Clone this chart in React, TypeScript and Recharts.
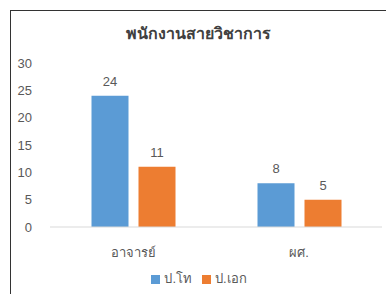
import { BarChart, Bar, XAxis, YAxis, Legend, LabelList } from 'recharts';

const categories = ['อาจารย์', 'ผศ.'];
const masters = [24, 8];
const doctorate = [11, 5];
const yTicks = [0, 5, 10, 15, 20, 25, 30];

const data = categories.map((name, i) => ({ name, s1: masters[i], s2: doctorate[i] }));

const textColor = '#595959';
const font = '"Liberation Sans", Arial, sans-serif';

export default function App() {
  return (
    <div style={{ position: 'absolute', left: 0, top: 0, width: 386, height: 294, background: '#fff', fontFamily: font }}>
      {/* frame of the screenshot */}
      <div style={{ position: 'absolute', left: 10, top: 10, width: 376, height: 284, borderTop: '1.5px solid #333', borderLeft: '1.5px solid #333' }} />
      <div style={{ position: 'absolute', left: 10, top: 21, width: 376, textAlign: 'center', fontSize: 16, fontWeight: 'bold', color: '#404040' }}>
        พนักงานสายวิชาการ
      </div>
      <div style={{ position: 'absolute', left: 0, top: 0 }}>
        <BarChart
          width={386}
          height={294}
          data={data}
          margin={{ top: 63, right: 4, bottom: 37, left: 10 }}
          barCategoryGap="25%"
          barGap={10}
        >
          <XAxis
            dataKey="name"
            tick={{ fill: textColor, fontSize: 13 }}
            axisLine={{ stroke: '#d9d9d9' }}
            tickLine={false}
            tickMargin={15}
          />
          <YAxis
            width={40}
            domain={[0, 30]}
            ticks={yTicks}
            tick={{ fill: textColor, fontSize: 13 }}
            axisLine={false}
            tickLine={false}
            tickMargin={12}
          />
          <Legend
            verticalAlign="middle"
            align="center"
            layout="horizontal"
            iconType="square"
            iconSize={9}
            itemSorter="dataKey"
            wrapperStyle={{ top: 268, left: 11, width: 386, fontSize: 13 }}
            formatter={(v: string) => <span style={{ color: textColor }}>{v}</span>}
          />
          <Bar name="ป.โท" dataKey="s1" fill="#5B9BD5" isAnimationActive={false}>
            <LabelList dataKey="s1" position="top" offset={10} fill={textColor} fontSize={13} />
          </Bar>
          <Bar name="ป.เอก" dataKey="s2" fill="#ED7D31" isAnimationActive={false}>
            <LabelList dataKey="s2" position="top" offset={10} fill={textColor} fontSize={13} />
          </Bar>
        </BarChart>
      </div>
    </div>
  );
}
